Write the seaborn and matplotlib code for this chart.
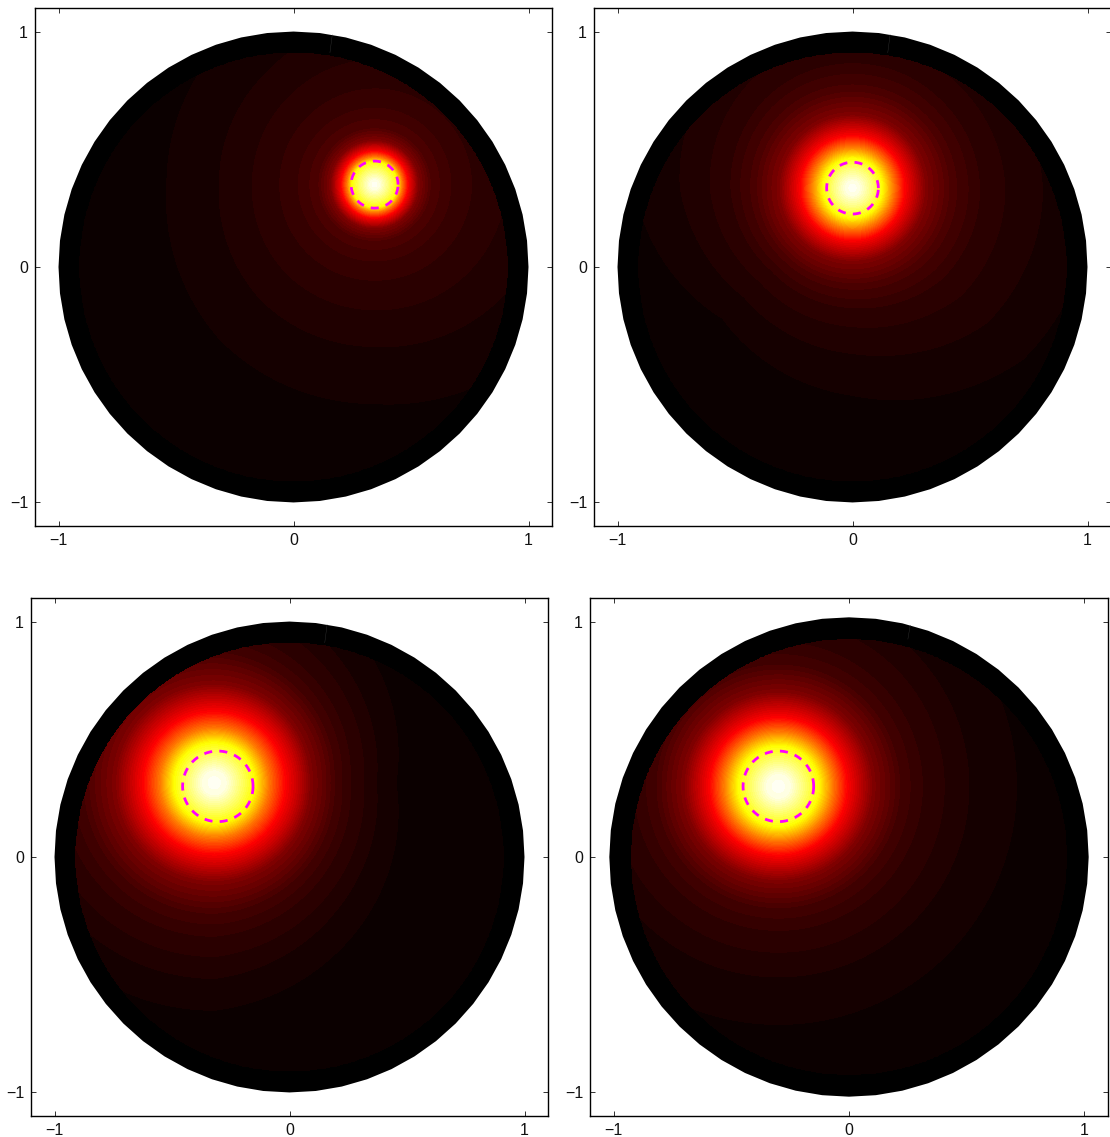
import matplotlib

matplotlib.use("Agg")

import matplotlib.pyplot as plt
import numpy as np
import seaborn as sns

# pixel boxes of the four panels: left, top, right, bottom
panel_boxes = [(35, 8, 552, 526), (594, 8, 1111, 526), (31, 598, 548, 1116), (590, 598, 1108, 1116)]

# hot spot centre, dashed circle centre and radius
peak_x = [0.345, 0.0, -0.32, -0.30]
peak_y = [0.35, 0.335, 0.315, 0.30]
ring_x = [0.345, 0.0, -0.305, -0.30]
ring_y = [0.35, 0.335, 0.30, 0.30]
ring_r = [0.10, 0.11, 0.15, 0.15]

# field level against distance from the spot
dist_1 = [0, 0.02, 0.06, 0.095, 0.115, 0.14, 0.185, 0.24, 0.35, 0.50, 0.75, 1.0, 1.3, 1.6]
vals_1 = [1, 0.97, 0.86, 0.75, 0.55, 0.37, 0.18, 0.105, 0.07, 0.05, 0.025, 0.012, 0.004, 0.002]
dist_2 = [0, 0.03, 0.08, 0.125, 0.17, 0.22, 0.31, 0.42, 0.55, 0.80, 1.03, 1.3, 1.6]
vals_2 = [1, 0.97, 0.87, 0.75, 0.56, 0.37, 0.18, 0.10, 0.055, 0.028, 0.012, 0.004, 0.002]
dist_3 = [0, 0.05, 0.11, 0.17, 0.23, 0.30, 0.42, 0.56, 0.66, 0.85, 1.0, 1.3, 1.6]
vals_3 = [1, 0.97, 0.86, 0.75, 0.55, 0.37, 0.18, 0.09, 0.06, 0.028, 0.012, 0.003, 0.002]
dist_4 = [0, 0.05, 0.11, 0.17, 0.23, 0.29, 0.40, 0.52, 0.62, 0.80, 1.0, 1.3, 1.6]
vals_4 = [1, 0.97, 0.86, 0.75, 0.55, 0.37, 0.18, 0.09, 0.06, 0.032, 0.016, 0.006, 0.003]
profile_dist = [dist_1, dist_2, dist_3, dist_4]
profile_vals = [vals_1, vals_2, vals_3, vals_4]

# far field reach by direction, E, NE, N, NW, W, SW, S, SE
reach_1 = [1.1, 1.05, 1.0, 0.95, 0.95, 1.0, 1.0, 1.05]
reach_2 = [1.05, 1.0, 1.0, 1.0, 0.95, 0.8, 0.9, 1.05]
reach_3 = [0.8, 0.9, 1.0, 1.0, 1.0, 1.0, 1.0, 0.9]
reach_4 = [1.0, 1.0, 1.0, 1.0, 1.0, 1.0, 1.0, 1.0]
reach = [reach_1, reach_2, reach_3, reach_4]

disc_radius = [1.0, 1.0, 1.0, 1.018]
inner_radius = [0.91, 0.91, 0.91, 0.925]
slit_x = [0.165, 0.16, 0.16, 0.26]

tick_values = [-1, 0, 1]
tick_labels = ["\u22121", "0", "1"]
band_count = 64
side_count = 56

sns.set_theme(style="ticks")
plt.rcParams["font.family"] = ["Liberation Sans", "DejaVu Sans"]

fig = plt.figure(figsize=(11.10, 11.37), dpi=100)
hot = sns.color_palette("hot", as_cmap=True)
palette = [hot(k / band_count) for k in range(band_count)]

for i, (left, top, right, bottom) in enumerate(panel_boxes):
    ax = fig.add_axes([left / 1110, 1 - bottom / 1137, (right - left) / 1110, (bottom - top) / 1137])

    # black polygon rim
    sides = np.linspace(0, 2 * np.pi, side_count + 1)
    ax.fill(disc_radius[i] * np.cos(sides), disc_radius[i] * np.sin(sides), color="black", lw=0)

    grid = np.linspace(-1.05, 1.05, 700)
    xx, yy = np.meshgrid(grid, grid)
    dx = xx - peak_x[i]
    dy = yy - peak_y[i]
    dd = np.hypot(dx, dy)
    angle = np.mod(np.arctan2(dy, dx), 2 * np.pi)
    nodes = np.linspace(0, 2 * np.pi, 9)
    stretch = np.interp(angle, nodes, reach[i] + reach[i][:1])
    # only the faint far field leans, the bright spot stays round
    stretch = 1 + (stretch - 1) * np.clip((dd - 0.35) / 0.4, 0, 1)
    zz = np.interp(dd / stretch, profile_dist[i], profile_vals[i])
    zz = np.ma.masked_where(np.hypot(xx, yy) > inner_radius[i], zz)
    ax.contourf(xx, yy, zz, levels=np.linspace(0, 1.0001, band_count + 1), colors=palette, antialiased=False)

    # thin seam through the rim
    ax.plot([slit_x[i], slit_x[i] - 0.01], [np.sqrt(disc_radius[i] ** 2 - slit_x[i] ** 2), inner_radius[i]],
            color="#333333", lw=0.3)

    turn = np.linspace(0, 2 * np.pi, 200)
    sns.lineplot(x=ring_x[i] + ring_r[i] * np.cos(turn), y=ring_y[i] + ring_r[i] * np.sin(turn),
                 sort=False, estimator=None, color="#ff00ff", lw=2, linestyle=(0, (2.9, 2.6)), ax=ax)

    ax.set_xlim(-1.1, 1.1)
    ax.set_ylim(-1.1, 1.1)
    ax.set_xticks(tick_values, tick_labels)
    ax.set_yticks(tick_values, tick_labels)
    ax.tick_params(direction="in", length=3.5, width=0.6, labelsize=11.5, top=True, right=True,
                   color="#111111", labelcolor="#111111", pad=5)
    for spine in ax.spines.values():
        spine.set_visible(True)
        spine.set_linewidth(1.0)
        spine.set_color("black")

fig.savefig("out.png", dpi=100)
